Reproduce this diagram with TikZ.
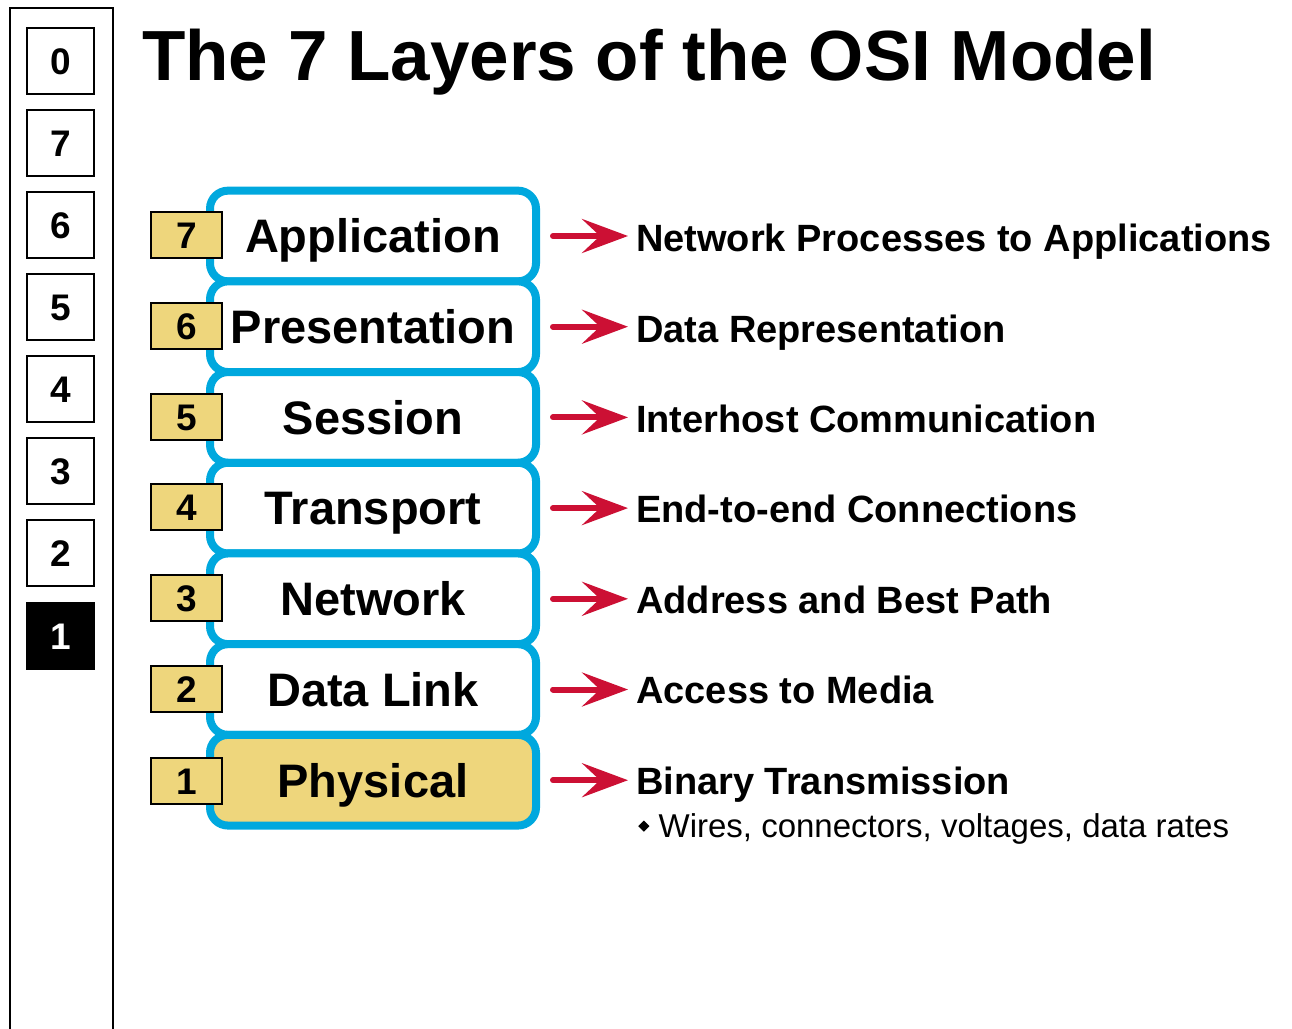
\documentclass[tikz,border=0pt]{standalone}
\usepackage{fontspec}
\setmainfont{Liberation Sans}
\usetikzlibrary{arrows.meta}
\definecolor{osiblue}{RGB}{0,168,222}
\definecolor{osiyellow}{RGB}{238,214,124}
\definecolor{osired}{RGB}{204,16,52}
\tikzset{
  layerbox/.style={rectangle, rounded corners=18pt, draw=osiblue, line width=8pt, fill=white,
    minimum width=326pt, minimum height=90.7pt, inner sep=0pt, text height=33.7pt, text depth=0pt,
    font=\fontsize{47}{50}\selectfont\bfseries},
  numbox/.style={rectangle, draw=black, line width=2.5pt, fill=osiyellow,
    minimum width=71pt, minimum height=46pt, inner sep=0pt, text height=26.5pt, text depth=0pt,
    font=\fontsize{37}{40}\selectfont\bfseries},
  sidebox/.style={rectangle, draw=black, line width=2.5pt, fill=white,
    minimum width=67pt, minimum height=66pt, inner sep=0pt, text height=26.5pt, text depth=0pt,
    font=\fontsize{37}{40}\selectfont\bfseries},
  desc/.style={anchor=base west, inner sep=0pt, font=\fontsize{38}{42}\selectfont\bfseries},
  redarrow/.style={draw=osired, line width=6pt, line cap=round, -{Stealth[length=46pt,width=34pt,inset=18pt]},
    shorten <=13pt, shorten >=8pt},
}
\begin{document}
\begin{tikzpicture}[x=1pt,y=-1pt]
\useasboundingbox (0,0) rectangle (1292,1028);
% left panel
\coordinate (pbl) at (10,1035);
\coordinate (pbr) at (113,1035);
\draw[line width=2.5pt] (pbl) |- (61.5,8) -| (pbr);
\node[sidebox] (s0) at (60.5,61) {0};
\node[sidebox] (s7) at (60.5,143) {7};
\node[sidebox] (s6) at (60.5,225) {6};
\node[sidebox] (s5) at (60.5,307) {5};
\node[sidebox] (s4) at (60.5,389) {4};
\node[sidebox] (s3) at (60.5,471) {3};
\node[sidebox] (s2) at (60.5,553) {2};
\node[sidebox, fill=black, text=white] (s1) at (60.5,636) {1};
% title
\node[anchor=base west, inner sep=0pt, font=\fontsize{71}{75}\selectfont\bfseries] (title) at (142,80) {The 7 Layers of the OSI Model};
% layers
\node[layerbox] (L7) at (373,236) {Application};
\node[layerbox] (L6) at (373,326.7) {Presentation};
\node[layerbox] (L5) at (373,417.4) {Session};
\node[layerbox] (L4) at (373,508.1) {Transport};
\node[layerbox] (L3) at (373,598.8) {Network};
\node[layerbox] (L2) at (373,689.5) {Data Link};
\node[layerbox, fill=osiyellow] (L1) at (373,780.2) {Physical};
% numbers
\node[numbox] (n7) at (186.5,235) {7};
\node[numbox] (n6) at (186.5,326) {6};
\node[numbox] (n5) at (186.5,417) {5};
\node[numbox] (n4) at (186.5,507) {4};
\node[numbox] (n3) at (186.5,598) {3};
\node[numbox] (n2) at (186.5,689) {2};
\node[numbox] (n1) at (186.5,781) {1};
% descriptions
\node[desc] (d7) at (636,251.5) {Network Processes to Applications};
\node[desc] (d6) at (636,342) {Data Representation};
\node[desc] (d5) at (636,432) {Interhost Communication};
\node[desc] (d4) at (636,522.5) {End-to-end Connections};
\node[desc] (d3) at (636,613) {Address and Best Path};
\node[desc] (d2) at (636,703.5) {Access to Media};
\node[desc] (d1) at (636,794.5) {Binary Transmission};
\node[anchor=base west, inner sep=0pt, font=\fontsize{33}{36}\selectfont] (d1b) at (638,837)
  {\raisebox{0.16em}{\rotatebox{45}{\rule{0.24em}{0.24em}}}\hspace{0.28em}Wires, connectors, voltages, data rates};
% arrows
\foreach \i in {7,6,5,4,3,2,1} {
  \draw[redarrow] (L\i.east) -- (L\i.east -| d\i.west);
}
\end{tikzpicture}
\end{document}
